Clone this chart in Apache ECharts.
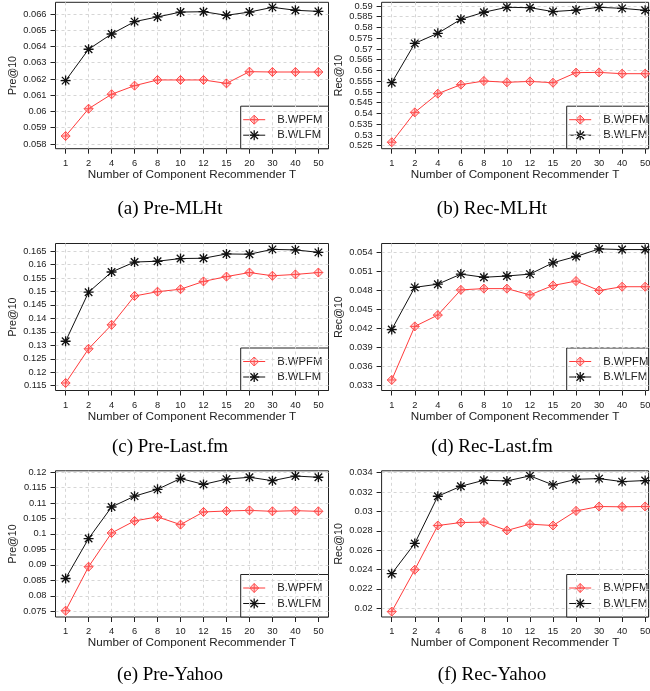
<!DOCTYPE html>
<html>
<head>
<meta charset="utf-8">
<script src="https://cdn.jsdelivr.net/npm/echarts@6/dist/echarts.min.js"></script>
<style>
  html, body { margin: 0; padding: 0; background: #fff; }
  #chart { width: 650px; height: 691px; }
</style>
</head>
<body>
<div id="chart"></div>
<script>
// Number of component recommenders T (x categories)
const categories = ['1', '2', '4', '6', '8', '10', '12', '15', '20', '30', '40', '50'];
const seriesNames = ['B.WPFM', 'B.WLFM'];
const xTitle = 'Number of Component Recommender T';

// (a) Pre-MLHt
const preMLHtWPFM = [0.05849, 0.06017, 0.06106, 0.06159, 0.06194, 0.06194, 0.06194, 0.06173, 0.06245, 0.06243, 0.06243, 0.06243];
const preMLHtWLFM = [0.06190, 0.06383, 0.06477, 0.06553, 0.06582, 0.06612, 0.06614, 0.06592, 0.06612, 0.06641, 0.06623, 0.06616];
const preMLHtTicks = [0.058, 0.059, 0.060, 0.061, 0.062, 0.063, 0.064, 0.065, 0.066];

// (b) Rec-MLHt
const recMLHtWPFM = [0.5266, 0.5405, 0.5492, 0.5534, 0.5551, 0.5545, 0.5549, 0.5543, 0.5590, 0.5591, 0.5585, 0.5585];
const recMLHtWLFM = [0.5543, 0.5726, 0.5773, 0.5838, 0.5871, 0.5894, 0.5892, 0.5874, 0.5881, 0.5894, 0.5889, 0.5880];
const recMLHtTicks = [0.525, 0.53, 0.535, 0.54, 0.545, 0.55, 0.555, 0.56, 0.565, 0.57, 0.575, 0.58, 0.585, 0.59];

// (c) Pre-Last.fm
const preLastfmWPFM = [0.1160, 0.1287, 0.1376, 0.1483, 0.1499, 0.1508, 0.1537, 0.1555, 0.1570, 0.1558, 0.1563, 0.1570];
const preLastfmWLFM = [0.1315, 0.1497, 0.1572, 0.1609, 0.1612, 0.1622, 0.1623, 0.1639, 0.1638, 0.1656, 0.1654, 0.1645];
const preLastfmTicks = [0.115, 0.12, 0.125, 0.13, 0.135, 0.14, 0.145, 0.15, 0.155, 0.16, 0.165];

// (d) Rec-Last.fm
const recLastfmWPFM = [0.0338, 0.0423, 0.0441, 0.0481, 0.0483, 0.0483, 0.0473, 0.0488, 0.0495, 0.0480, 0.0486, 0.0486];
const recLastfmWLFM = [0.0418, 0.0485, 0.0490, 0.0506, 0.0501, 0.0503, 0.0506, 0.0524, 0.0534, 0.0546, 0.0545, 0.0545];
const recLastfmTicks = [0.033, 0.036, 0.039, 0.042, 0.045, 0.048, 0.051, 0.054];

// (e) Pre-Yahoo
const preYahooWPFM = [0.0752, 0.0894, 0.1003, 0.1042, 0.1055, 0.1030, 0.1071, 0.1074, 0.1076, 0.1073, 0.1075, 0.1073];
const preYahooWLFM = [0.0856, 0.0985, 0.1087, 0.1122, 0.1144, 0.1179, 0.1160, 0.1177, 0.1183, 0.1172, 0.1187, 0.1183];
const preYahooTicks = [0.075, 0.08, 0.085, 0.09, 0.095, 0.1, 0.105, 0.11, 0.115, 0.12];

// (f) Rec-Yahoo
const recYahooWPFM = [0.01966, 0.02398, 0.02854, 0.02885, 0.02889, 0.02803, 0.02868, 0.02854, 0.03005, 0.03050, 0.03047, 0.03050];
const recYahooWLFM = [0.02357, 0.02669, 0.03156, 0.03259, 0.03321, 0.03314, 0.03366, 0.03273, 0.03331, 0.03338, 0.03307, 0.03318];
const recYahooTicks = [0.02, 0.022, 0.024, 0.026, 0.028, 0.03, 0.032, 0.034];

const panels = [
  { caption: '(a) Pre-MLHt',    yName: 'Pre@10', wpfm: preMLHtWPFM,   wlfm: preMLHtWLFM,   ticks: preMLHtTicks },
  { caption: '(b) Rec-MLHt',    yName: 'Rec@10', wpfm: recMLHtWPFM,   wlfm: recMLHtWLFM,   ticks: recMLHtTicks },
  { caption: '(c) Pre-Last.fm', yName: 'Pre@10', wpfm: preLastfmWPFM, wlfm: preLastfmWLFM, ticks: preLastfmTicks },
  { caption: '(d) Rec-Last.fm', yName: 'Rec@10', wpfm: recLastfmWPFM, wlfm: recLastfmWLFM, ticks: recLastfmTicks },
  { caption: '(e) Pre-Yahoo',   yName: 'Pre@10', wpfm: preYahooWPFM,  wlfm: preYahooWLFM,  ticks: preYahooTicks },
  { caption: '(f) Rec-Yahoo',   yName: 'Rec@10', wpfm: recYahooWPFM,  wlfm: recYahooWLFM,  ticks: recYahooTicks }
];

// ---- layout (pixels) ----
const colLeft = [55.5, 381.6];
const colWidth = [273, 267];
const colXRange = [[-0.44, 11.44], [-0.44, 11.15]];
const legendLeft = [240.7, 566.7];
const rowTop = [2.3, 243.5, 470.8];
const rowBottom = [148.7, 390.5, 617];
const captionY = [209, 447, 675];
const captionX = [170, 492];
// visible value range of each plot box (a..f)
const yRanges = [
  [0.05771, 0.06672],
  [0.5236, 0.59172],
  [0.11322, 0.16778],
  [0.03213, 0.05546],
  [0.07316, 0.12039],
  [0.019104, 0.034185]
];

const RED_LINE = '#ff3b3b';
const RED_MARK = '#ff4f4f';
const RED_FILL = 'rgba(255,120,120,0.35)';
const BLACK = '#111';
const TEXT = '#222';
const SANS = '"Liberation Sans", Arial, sans-serif';
const SERIF = '"Liberation Serif", "Times New Roman", serif';

const DIAMOND_PLUS = 'path://M0 -10 L10 0 L0 10 L-10 0 Z M0 -10 L0 10 M-10 0 L10 0';
const ASTERISK = 'path://M0 -10 L0 10 M-10 0 L10 0 M-7.5 -7.5 L7.5 7.5 M-7.5 7.5 L7.5 -7.5';

const fmtNum = v => String(parseFloat(v.toFixed(5)));
const catIdx = categories.map((c, i) => i);

const grids = [], xAxes = [], yAxes = [], series = [], graphics = [];

panels.forEach((p, i) => {
  const col = i % 2, row = Math.floor(i / 2);
  const left = colLeft[col], width = colWidth[col];
  const top = rowTop[row], bottom = rowBottom[row];
  const height = bottom - top;

  grids.push({
    left: left, top: top, width: width, height: height,
    show: true, borderColor: '#222', borderWidth: 1, backgroundColor: 'transparent',
    containLabel: false, outerBoundsMode: 'none'
  });

  xAxes.push({
    type: 'value', gridIndex: i, min: colXRange[col][0], max: colXRange[col][1],
    axisLine: { show: false, onZero: false },
    axisTick: { show: true, customValues: catIdx, length: 5, lineStyle: { color: '#222', width: 1 } },
    axisLabel: {
      customValues: catIdx, margin: 10, fontSize: 9.3, fontFamily: SANS, color: TEXT,
      formatter: v => categories[Math.round(v)]
    },
    splitLine: { show: true, lineStyle: { color: '#d6d6d6', width: 1, type: [3, 3] } },
    name: xTitle, nameLocation: 'middle', nameGap: 20,
    nameTextStyle: { fontSize: 11.7, fontFamily: SANS, color: TEXT }
  });

  yAxes.push({
    type: 'value', gridIndex: i, min: yRanges[i][0], max: yRanges[i][1],
    axisLine: { show: false, onZero: false },
    axisTick: { show: true, customValues: p.ticks, length: 5, lineStyle: { color: '#222', width: 1 } },
    axisLabel: {
      customValues: p.ticks, margin: 9, fontSize: 9.3, fontFamily: SANS, color: TEXT,
      formatter: v => fmtNum(v)
    },
    splitLine: { show: true, lineStyle: { color: '#d6d6d6', width: 1, type: [3, 3] } },
    name: p.yName, nameLocation: 'middle', nameGap: 37,
    nameTextStyle: { fontSize: 10.6, fontFamily: SANS, color: TEXT }
  });

  series.push({
    name: seriesNames[0], type: 'line', xAxisIndex: i, yAxisIndex: i,
    data: p.wpfm.map((v, k) => [k, v]),
    symbol: DIAMOND_PLUS, symbolSize: 9, clip: false, silent: true,
    lineStyle: { color: RED_LINE, width: 1 },
    itemStyle: { color: RED_FILL, borderColor: RED_MARK, borderWidth: 1 },
    z: 3
  });
  series.push({
    name: seriesNames[1], type: 'line', xAxisIndex: i, yAxisIndex: i,
    data: p.wlfm.map((v, k) => [k, v]),
    symbol: ASTERISK, symbolSize: 10, clip: false, silent: true,
    lineStyle: { color: BLACK, width: 1 },
    itemStyle: { color: 'transparent', borderColor: BLACK, borderWidth: 1.3 },
    z: 4
  });

  // legend box in the lower-right corner of each plot
  const lx = legendLeft[col], ly = bottom - 42.5;
  const lw = left + width - lx;
  const children = [{
    type: 'rect', shape: { x: lx, y: ly, width: lw, height: 42.5 },
    style: { fill: '#fff', stroke: '#222', lineWidth: 1 }
  }];
  const rows = [ly + 13.5, ly + 29];
  // B.WPFM: line + diamond with cross
  const cx = lx + 13.5, s = 4.5;
  children.push({ type: 'line', shape: { x1: lx + 2.5, y1: rows[0], x2: lx + 24.5, y2: rows[0] }, style: { stroke: RED_LINE, lineWidth: 1 } });
  children.push({ type: 'polygon', shape: { points: [[cx, rows[0] - s], [cx + s, rows[0]], [cx, rows[0] + s], [cx - s, rows[0]]] }, style: { fill: RED_FILL, stroke: RED_MARK, lineWidth: 1 } });
  children.push({ type: 'line', shape: { x1: cx, y1: rows[0] - s, x2: cx, y2: rows[0] + s }, style: { stroke: RED_MARK, lineWidth: 1 } });
  children.push({ type: 'line', shape: { x1: cx - s, y1: rows[0], x2: cx + s, y2: rows[0] }, style: { stroke: RED_MARK, lineWidth: 1 } });
  // B.WLFM: line + asterisk
  children.push({ type: 'line', shape: { x1: lx + 2.5, y1: rows[1], x2: lx + 24.5, y2: rows[1] }, style: { stroke: BLACK, lineWidth: 1 } });
  const a = 5, d = 3.75;
  [[0, -a, 0, a], [-a, 0, a, 0], [-d, -d, d, d], [-d, d, d, -d]].forEach(q => {
    children.push({ type: 'line', shape: { x1: cx + q[0], y1: rows[1] + q[1], x2: cx + q[2], y2: rows[1] + q[3] }, style: { stroke: BLACK, lineWidth: 1.3 } });
  });
  seriesNames.forEach((n, k) => {
    children.push({
      type: 'text', x: lx + 36.5, y: rows[k],
      style: { text: n, fill: TEXT, font: '11.3px ' + SANS, textAlign: 'left', textVerticalAlign: 'middle' }
    });
  });
  graphics.push({ type: 'group', z: 100, children: children });

  // sub-figure caption
  graphics.push({
    type: 'text', x: captionX[col], y: captionY[row], z: 100,
    style: { text: p.caption, fill: '#000', font: '19px ' + SERIF, textAlign: 'center', textVerticalAlign: 'middle' }
  });
});

const chart = echarts.init(document.getElementById('chart'), null, { renderer: 'canvas' });
chart.setOption({
  backgroundColor: '#fff',
  animation: false,
  grid: grids,
  xAxis: xAxes,
  yAxis: yAxes,
  series: series,
  graphic: { elements: graphics }
});
</script>
</body>
</html>
